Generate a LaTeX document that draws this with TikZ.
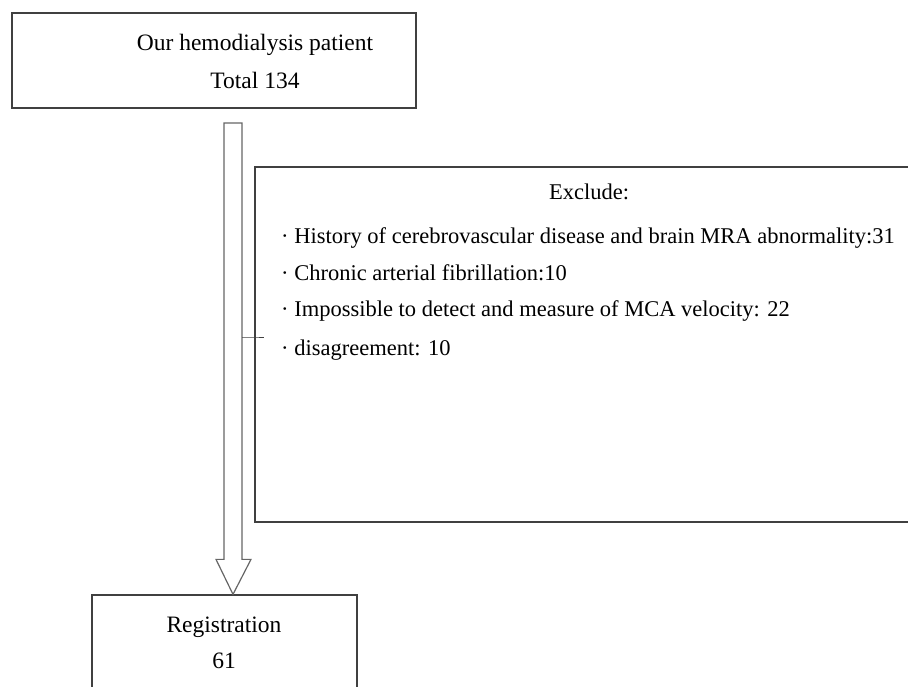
\documentclass[tikz,border=0pt]{standalone}
\usepackage{fontspec}
\setmainfont{Liberation Serif}
\begin{document}
\begin{tikzpicture}[x=1pt,y=-1pt,
  box/.style={draw=black!75,line width=1.3pt,fill=none,inner sep=0pt},
  bigtxt/.style={font=\fontsize{23.5}{28}\selectfont,inner sep=0pt,text=black},
  txt/.style={font=\fontsize{22.5}{27}\selectfont,inner sep=0pt,text=black},
  blockarrow/.style={draw=black!60,line width=1.2pt,fill=white,line join=miter}]
\useasboundingbox (0,0) rectangle (908,686);
\clip (0,0) rectangle (908,686);
% boxes
\node[box,minimum width=404pt,minimum height=95pt] (top) at (214,60.5) {};
\node[box,minimum width=680pt,minimum height=355pt] (excl) at (595,344.5) {};
\node[box,minimum width=265pt,minimum height=120pt] (reg) at (224.5,655) {};
% texts
\node[bigtxt,anchor=base] (t1) at (255,50) {Our hemodialysis patient};
\node[bigtxt,anchor=base] (t2) at (255,88) {Total 134};
\node[txt,anchor=base] (ex) at (589,199) {Exclude:};
\node[txt,anchor=base west] (e1) at (281,243) {· History of cerebrovascular disease and brain MRA abnormality:31};
\node[txt,anchor=base west] (e2) at (281,280) {· Chronic arterial fibrillation:10};
\node[txt,anchor=base west] (e3) at (281,316) {· Impossible to detect and measure of MCA velocity: 22};
\node[txt,anchor=base west] (e4) at (281,355) {· disagreement: 10};
\node[bigtxt,anchor=base] (r1) at (224,632) {Registration};
\node[bigtxt,anchor=base] (r2) at (224,668) {61};
% block arrow from top box to registration box
\coordinate (atop) at (233,123);
\coordinate (atip) at (reg.north -| atop);
\draw[blockarrow] ([xshift=-9pt]atop) -- ([xshift=9pt]atop) -- ([xshift=9pt,yshift=35pt]atip)
  -- ([xshift=18pt,yshift=35pt]atip) -- (atip) -- ([xshift=-17pt,yshift=35pt]atip)
  -- ([xshift=-9pt,yshift=35pt]atip) -- cycle;
% tick connecting arrow to exclude box
\coordinate (tk) at (242,337);
\draw[black!75,line width=1pt] (tk) -- (tk -| excl.west) -- ++(10,0);
\end{tikzpicture}
\end{document}
